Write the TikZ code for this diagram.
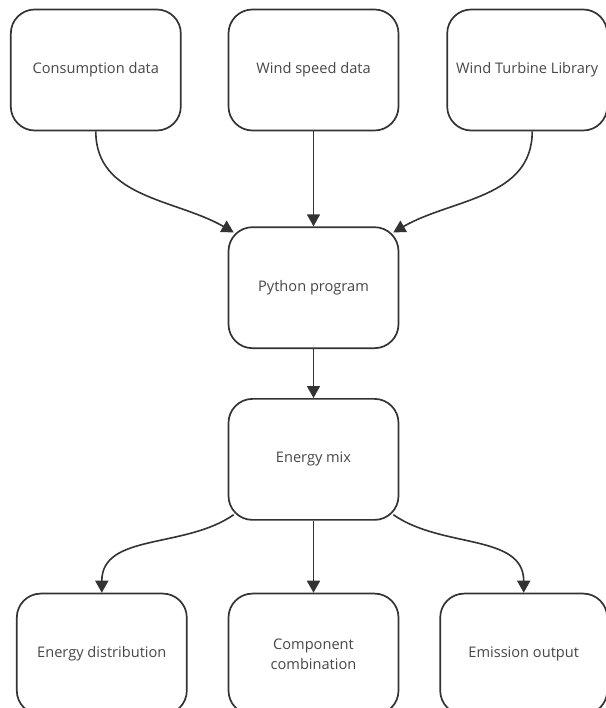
\documentclass[tikz,border=0pt]{standalone}
\usepackage{fontspec}
\setmainfont{Open Sans}
\usepackage{tikz}
\usetikzlibrary{arrows.meta, positioning, calc}
\definecolor{flow_dark}{HTML}{333333}
\definecolor{flow_text}{HTML}{474747}
\tikzset{
  box/.style={rectangle,rounded corners=24pt,draw=flow_dark,line width=1.7pt,fill=white,
    text=flow_text,font=\fontsize{14.6}{20}\selectfont,align=center,
    minimum width=170pt,minimum height=121pt,inner sep=0pt},
  box_n/.style={box,minimum width=160pt},
  flow/.style={draw=flow_dark,line width=1.6pt,-{Triangle[length=12pt,width=13pt]}},
}

\begin{document}
\begin{tikzpicture}[x=1pt,y=1pt]
	    \useasboundingbox[fill=white] (0,0) rectangle (605,708);
	    \node[box] (wind) at (313.5,638) {Wind speed data};
	    \node[box,left=46pt of wind] (cons) {Consumption data};
	    \node[box_n,right=47pt of wind] (lib) {Wind Turbine Library};
	    \node[box,below=95pt of wind] (py) {Python program};
	    \node[box,below=49pt of py] (mix) {Energy mix};
	    \node[box,below=72pt of mix] (comb) {Component\\combination};
	    \node[box,left=40pt of comb] (dist) {Energy distribution};
	    \node[box,right=40pt of comb,minimum width=167pt] (emis) {Emission output};
	    \draw[flow] (cons.south) to[out=-90,in=150] ($(py.north west)+(6pt,-6pt)$);
	    \draw[flow] (wind.south) -- (py.north);
	    \draw[flow] ($(lib.south)+(5pt,0)$) to[out=-90,in=30] ($(py.north east)+(-6pt,-6pt)$);
	    \draw[flow] (py.south) -- (mix.north);
	    \draw[flow] ($(mix.south west)+(6pt,6pt)$) to[out=-145,in=90] (dist.north);
	    \draw[flow] (mix.south) -- (comb.north);
	    \draw[flow] ($(mix.south east)+(-6pt,6pt)$) to[out=-35,in=90] (emis.north);
	\end{tikzpicture}
\end{document}
